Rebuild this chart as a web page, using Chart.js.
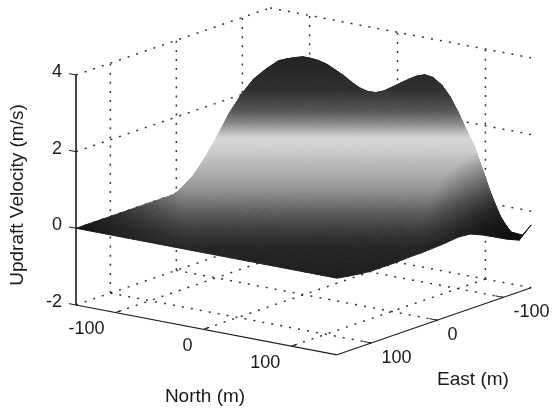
<!DOCTYPE html>
<html>
<head>
<meta charset="utf-8">
<title>Updraft velocity surface</title>
<script src="https://cdn.jsdelivr.net/npm/chart.js@4"></script>
<style>
    html, body { margin: 0; padding: 0; background: #fff; }
    #wrap { width: 553px; height: 412px; }
</style>
</head>
<body>
<div id="wrap"><canvas id="surfaceChart" width="553" height="412"></canvas></div>
<script>
// Surface grid (m and m/s)
const northGrid = [-145, -126, -108, -99, -89, -80, -71, -62, -52, -43, -34, -25, -15, -6, 3, 12, 22, 31, 41, 50, 59, 68, 78, 87, 96, 105, 115, 124, 133, 142, 152];
const eastGrid = [-142, -124, -105, -87, -68, -50, -32, -13, 5, 24, 42, 60, 79, 97, 115, 134, 152];

// one row per north value, one column per east value
const updraft = [
    [1.5, 1.7, 1.75, 1.45, 1.1, 0.75, 0.38, 0.12, 0, 0, 0, 0, 0, 0, 0, 0, 0],
    [1.95, 2.3, 2.55, 2.35, 2.1, 1.65, 1.2, 0.7, 0.38, 0.2, 0.1, 0.04, 0, 0, 0, 0, 0],
    [2.2, 2.65, 3.0, 2.9, 2.75, 2.47, 2.1, 1.59, 1.15, 0.77, 0.55, 0.25, 0.12, 0.05, 0.02, 0, 0],
    [2.3, 2.78, 3.09, 2.92, 2.69, 2.39, 2.03, 1.58, 1.18, 0.82, 0.52, 0.3, 0.15, 0.05, 0, 0, 0],
    [2.35, 2.85, 3.17, 2.94, 2.65, 2.34, 1.96, 1.55, 1.17, 0.82, 0.54, 0.32, 0.16, 0.06, 0, 0, 0],
    [2.35, 2.88, 3.23, 3.0, 2.7, 2.38, 1.99, 1.58, 1.19, 0.83, 0.55, 0.32, 0.16, 0.06, 0, 0, 0],
    [2.3, 2.85, 3.23, 3.01, 2.72, 2.4, 2.01, 1.59, 1.2, 0.84, 0.55, 0.32, 0.16, 0.06, 0, 0, 0],
    [2.22, 2.78, 3.21, 2.98, 2.69, 2.37, 1.99, 1.57, 1.19, 0.83, 0.55, 0.32, 0.16, 0.06, 0, 0, 0],
    [2.15, 2.7, 3.15, 2.95, 2.66, 2.35, 1.97, 1.55, 1.17, 0.82, 0.54, 0.32, 0.16, 0.06, 0, 0, 0],
    [2.08, 2.6, 3.05, 2.85, 2.57, 2.27, 1.9, 1.5, 1.13, 0.79, 0.52, 0.31, 0.15, 0.06, 0, 0, 0],
    [2.05, 2.5, 2.95, 2.75, 2.49, 2.19, 1.84, 1.45, 1.1, 0.77, 0.5, 0.3, 0.15, 0.06, 0, 0, 0],
    [2.08, 2.42, 2.82, 2.63, 2.39, 2.12, 1.78, 1.41, 1.06, 0.74, 0.49, 0.29, 0.14, 0.05, 0, 0, 0],
    [2.15, 2.4, 2.7, 2.53, 2.3, 2.05, 1.72, 1.38, 1.03, 0.72, 0.48, 0.28, 0.14, 0.05, 0, 0, 0],
    [2.25, 2.45, 2.65, 2.5, 2.29, 2.04, 1.71, 1.36, 1.02, 0.71, 0.47, 0.27, 0.14, 0.05, 0, 0, 0],
    [2.35, 2.55, 2.66, 2.52, 2.3, 2.04, 1.72, 1.36, 1.02, 0.72, 0.47, 0.27, 0.14, 0.05, 0, 0, 0],
    [2.45, 2.63, 2.74, 2.6, 2.37, 2.09, 1.76, 1.39, 1.04, 0.74, 0.48, 0.28, 0.14, 0.05, 0, 0, 0],
    [2.55, 2.75, 2.89, 2.69, 2.45, 2.15, 1.8, 1.42, 1.07, 0.75, 0.49, 0.29, 0.14, 0.05, 0, 0, 0],
    [2.6, 2.85, 3.03, 2.83, 2.56, 2.25, 1.89, 1.49, 1.13, 0.79, 0.52, 0.31, 0.15, 0.06, 0, 0, 0],
    [2.6, 2.95, 3.18, 2.96, 2.67, 2.35, 1.97, 1.56, 1.18, 0.83, 0.54, 0.32, 0.16, 0.06, 0, 0, 0],
    [2.55, 2.98, 3.3, 3.06, 2.76, 2.43, 2.04, 1.61, 1.22, 0.86, 0.56, 0.33, 0.17, 0.07, 0, 0, 0],
    [2.4, 2.95, 3.37, 3.13, 2.83, 2.49, 2.09, 1.65, 1.25, 0.88, 0.57, 0.34, 0.17, 0.07, 0, 0, 0],
    [2.05, 2.78, 3.34, 3.08, 2.77, 2.44, 2.05, 1.62, 1.22, 0.86, 0.56, 0.33, 0.16, 0.07, 0, 0, 0],
    [1.7, 2.5, 3.19, 2.95, 2.66, 2.34, 1.96, 1.55, 1.17, 0.82, 0.53, 0.31, 0.15, 0.06, 0, 0, 0],
    [1.35, 2.15, 2.94, 2.67, 2.41, 2.12, 1.78, 1.4, 1.06, 0.75, 0.48, 0.28, 0.14, 0.06, 0, 0, 0],
    [0.88, 1.75, 2.59, 2.38, 2.15, 1.89, 1.59, 1.25, 0.95, 0.67, 0.43, 0.25, 0.12, 0.05, 0, 0, 0],
    [0.32, 1.28, 2.18, 2.0, 1.77, 1.52, 1.26, 0.98, 0.73, 0.5, 0.32, 0.18, 0.08, 0.03, 0, 0, 0],
    [-0.24, 0.7, 1.76, 1.6, 1.38, 1.15, 0.92, 0.7, 0.5, 0.34, 0.2, 0.1, 0.04, 0.01, 0, 0, 0],
    [-0.54, 0.12, 1.2, 1.08, 0.89, 0.72, 0.57, 0.42, 0.3, 0.19, 0.11, 0.05, 0.01, -0.01, -0.01, 0, 0],
    [-0.73, -0.25, 0.64, 0.55, 0.4, 0.3, 0.22, 0.15, 0.1, 0.05, 0.02, 0, -0.02, -0.03, -0.02, -0.01, 0],
    [-0.67, -0.48, 0.13, 0.1, 0.11, 0.12, 0.1, 0.05, 0.01, -0.03, -0.04, -0.06, -0.07, -0.08, -0.06, -0.03, 0],
    [-0.36, -0.65, -0.51, -0.35, -0.18, -0.05, -0.02, -0.06, -0.08, -0.1, -0.1, -0.12, -0.12, -0.12, -0.1, -0.05, 0]
];

const northTicks = [-100, 0, 100];
const eastTicks = [-100, 0, 100];
const velocityTicks = [-2, 0, 2, 4];

// Fixed 3D view of the box
function project(north, east, velocity) {
    return {
        x: 303.8 + 0.879 * north - 0.66 * east,
        y: 218 + 0.168 * north + 0.228 * east - 38.33 * velocity
    };
}

const northMin = northGrid[0], northMax = northGrid[northGrid.length - 1];
const eastMin = eastGrid[0], eastMax = eastGrid[eastGrid.length - 1];
const velocityMin = velocityTicks[0], velocityMax = velocityTicks[velocityTicks.length - 1];

// Shading of the surface: bands across the picture, dark at both far corners
function buildShading() {
    const off = document.createElement('canvas');
    off.width = 553;
    off.height = 412;
    const c = off.getContext('2d');

    const bands = c.createLinearGradient(0, 50, 0, 290);
    const stops = [[50, 32], [90, 48], [110, 85], [123, 135], [133, 190], [139, 215], [150, 205],
        [170, 176], [190, 146], [210, 100], [230, 60], [247, 38], [290, 26]];
    stops.forEach(s => {
        bands.addColorStop((s[0] - 50) / 240, `rgb(${s[1]},${s[1]},${s[1]})`);
    });
    c.fillStyle = bands;
    c.fillRect(0, 0, 553, 412);

    const right = c.createRadialGradient(525, 245, 10, 525, 245, 105);
    right.addColorStop(0, 'rgba(12,12,12,0.95)');
    right.addColorStop(0.4, 'rgba(12,12,12,0.7)');
    right.addColorStop(1, 'rgba(12,12,12,0)');
    c.fillStyle = right;
    c.fillRect(0, 0, 553, 412);

    const left = c.createRadialGradient(76, 228, 10, 76, 228, 110);
    left.addColorStop(0, 'rgba(20,20,20,0.95)');
    left.addColorStop(1, 'rgba(20,20,20,0)');
    c.fillStyle = left;
    c.fillRect(0, 0, 553, 412);

    return c.createPattern(off, 'no-repeat');
}

function gridLine(a, b) {
    return {
        data: [project(a[0], a[1], a[2]), project(b[0], b[1], b[2])],
        borderColor: '#333',
        borderWidth: 1.5,
        borderDash: [2, 7.1],
        order: 3
    };
}

function axisLine(a, b, width) {
    return {
        data: [project(a[0], a[1], a[2]), project(b[0], b[1], b[2])],
        borderColor: '#1c1c1c',
        borderWidth: width,
        order: 1
    };
}

const datasets = [];

// Dotted grid on the two back walls and the floor
velocityTicks.forEach(v => {
    datasets.push(gridLine([northMin, eastMax, v], [northMin, eastMin, v]));
    datasets.push(gridLine([northMin, eastMin, v], [northMax, eastMin, v]));
});
eastTicks.forEach(e => {
    datasets.push(gridLine([northMin, e, velocityMin], [northMin, e, velocityMax]));
    datasets.push(gridLine([northMin, e, velocityMin], [northMax, e, velocityMin]));
});
northTicks.forEach(n => {
    datasets.push(gridLine([n, eastMin, velocityMin], [n, eastMin, velocityMax]));
    datasets.push(gridLine([n, eastMin, velocityMin], [n, eastMax, velocityMin]));
});

// Surface cells
const shading = buildShading();
for (let i = 0; i < northGrid.length - 1; i++) {
    for (let j = 0; j < eastGrid.length - 1; j++) {
        const p1 = project(northGrid[i], eastGrid[j], updraft[i][j]);
        const p2 = project(northGrid[i + 1], eastGrid[j], updraft[i + 1][j]);
        const p3 = project(northGrid[i + 1], eastGrid[j + 1], updraft[i + 1][j + 1]);
        const p4 = project(northGrid[i], eastGrid[j + 1], updraft[i][j + 1]);
        datasets.push({
            data: [p1, p2, p3, p4, p1],
            fill: 'shape',
            backgroundColor: shading,
            borderColor: shading,
            borderWidth: 1,
            order: 2
        });
    }
}

// Solid axes and their short ticks
datasets.push(axisLine([northMin, eastMax, velocityMin], [northMin, eastMax, velocityMax], 1.6));
datasets.push(axisLine([northMin, eastMax, velocityMin], [northMax, eastMax, velocityMin], 1.1));
datasets.push(axisLine([northMax, eastMax, velocityMin], [northMax, eastMin, velocityMin], 1.1));
velocityTicks.forEach(v => {
    datasets.push(axisLine([northMin, eastMax, v], [northMin - 8, eastMax, v], 1));
});
northTicks.forEach(n => {
    datasets.push(axisLine([n, eastMax, velocityMin], [n, eastMax - 9, velocityMin], 1));
});
eastTicks.forEach(e => {
    datasets.push(axisLine([northMax, e, velocityMin], [northMax - 9, e, velocityMin], 1));
});

// Tick labels and axis titles
const boxLabels = {
    id: 'boxLabels',
    afterDraw(chart) {
        const ctx = chart.ctx;
        const sx = chart.scales.x, sy = chart.scales.y;
        const px = p => ({ x: sx.getPixelForValue(p.x), y: sy.getPixelForValue(p.y) });
        ctx.save();
        ctx.fillStyle = '#1a1a1a';
        ctx.font = '18px "Liberation Sans", Arial, sans-serif';
        ctx.textBaseline = 'middle';

        ctx.textAlign = 'right';
        velocityTicks.forEach(v => {
            const p = px(project(northMin, eastMax, v));
            ctx.fillText(String(v), p.x - 14, p.y - 3);
        });
        northTicks.forEach(n => {
            const p = px(project(n, eastMax, velocityMin));
            ctx.fillText(String(n), p.x - 11, p.y + 17);
        });
        ctx.textAlign = 'left';
        eastTicks.forEach(e => {
            const p = px(project(northMax, e, velocityMin));
            ctx.fillText(String(e), p.x + 10, p.y + 15);
        });

        ctx.font = '19px "Liberation Sans", Arial, sans-serif';
        ctx.textAlign = 'center';
        ctx.fillText('North (m)', 205, 397);
        ctx.fillText('East (m)', 473, 380);
        ctx.translate(18, 195);
        ctx.rotate(-Math.PI / 2);
        ctx.fillText('Updraft Velocity (m/s)', 0, 0);
        ctx.restore();
    }
};

new Chart(document.getElementById('surfaceChart'), {
    type: 'scatter',
    data: { datasets: datasets },
    options: {
        responsive: false,
        animation: false,
        events: [],
        layout: { padding: 0 },
        showLine: true,
        elements: {
            point: { radius: 0 },
            line: { tension: 0 }
        },
        plugins: {
            legend: { display: false },
            tooltip: { enabled: false }
        },
        scales: {
            x: { type: 'linear', display: false, min: 0, max: 553 },
            y: { type: 'linear', display: false, min: 0, max: 412, reverse: true }
        }
    },
    plugins: [boxLabels]
});
</script>
</body>
</html>
